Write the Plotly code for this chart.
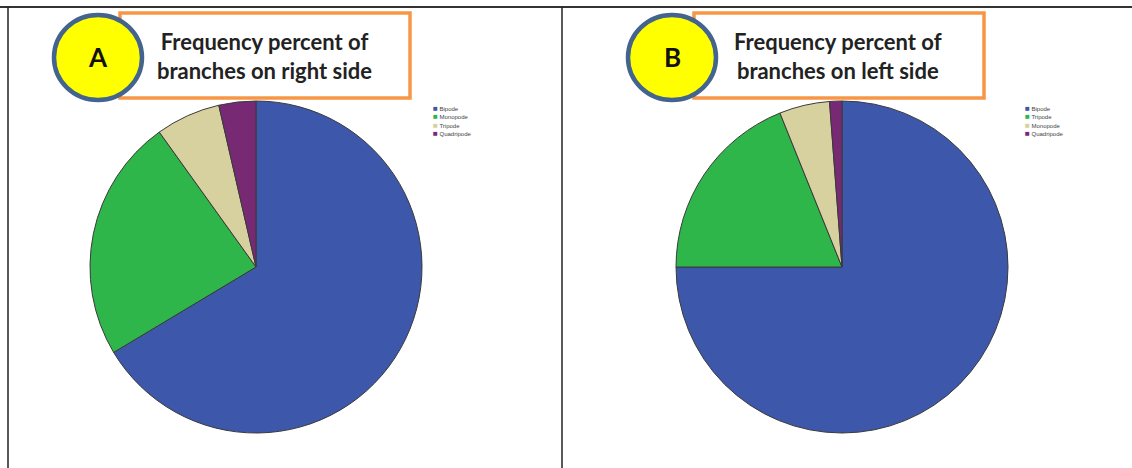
import plotly.graph_objects as go

W, H = 1132, 468

labels_a = ["Bipode", "Monopode", "Tripode", "Quadripode"]
values_a = [66.4, 23.7, 6.3, 3.6]
labels_b = ["Bipode", "Tripode", "Monopode", "Quadripode"]
values_b = [75.0, 18.9, 4.9, 1.2]
slice_colors = ["#3d57aa", "#2eb64b", "#d7d09f", "#772a73"]

titles = ["Frequency percent of<br>branches on right side",
          "Frequency percent of<br>branches on left side"]
badges = ["A", "B"]


def px_x(x):
    return x / W


def px_y(y):
    return 1 - y / H


fig = go.Figure()
annotations = []

for labels, values, cx, legx in [
    (labels_a, values_a, 256, 431),
    (labels_b, values_b, 842, 1023),
]:
    r = 166
    fig.add_trace(go.Pie(
        labels=labels,
        values=values,
        sort=False,
        direction="clockwise",
        rotation=0,
        textinfo="none",
        hoverinfo="label+percent",
        marker=dict(colors=slice_colors, line=dict(color="#3a3a3a", width=1)),
        domain=dict(x=[px_x(cx - r), px_x(cx + r)], y=[px_y(267 + r), px_y(267 - r)]),
        showlegend=False,
    ))
    # small SPSS-style legend next to each pie, one row per slice
    for i, (c, lab) in enumerate(zip(slice_colors, labels)):
        annotations.append(dict(x=px_x(legx), y=px_y(108 + 8.6 * i), xref="paper", yref="paper",
                                xanchor="left", yanchor="middle", align="left", showarrow=False,
                                text="<span style='font-size:8px;color:%s'>■</span> %s" % (c, lab),
                                font=dict(family="Arial", size=6, color="#444")))

shapes = [
    # panel borders
    dict(type="line", x0=0, x1=1, y0=px_y(7), y1=px_y(7), line=dict(color="#333", width=2)),
    dict(type="line", x0=px_x(8), x1=px_x(8), y0=0, y1=px_y(7), line=dict(color="#222", width=1.5)),
    dict(type="line", x0=px_x(562), x1=px_x(562), y0=0, y1=px_y(7), line=dict(color="#222", width=1.5)),
]

for ox, k in [(0, 0), (574, 1)]:
    # orange title box
    shapes.append(dict(type="rect", x0=px_x(120 + ox), x1=px_x(410 + ox),
                       y0=px_y(98), y1=px_y(13),
                       line=dict(color="#f79646", width=3.5), fillcolor="white"))
    # yellow badge
    shapes.append(dict(type="circle", x0=px_x(54 + ox), x1=px_x(142 + ox),
                       y0=px_y(100), y1=px_y(15),
                       line=dict(color="#43648e", width=4.5), fillcolor="#ffff00"))
    annotations.append(dict(x=px_x(98 + ox), y=px_y(57), xref="paper", yref="paper",
                            xanchor="center", yanchor="middle",
                            text="<b>%s</b>" % badges[k], showarrow=False,
                            font=dict(family="Lato", size=26, color="#111")))
    annotations.append(dict(x=px_x(264 + ox), y=px_y(56), xref="paper", yref="paper",
                            xanchor="center", yanchor="middle",
                            text="<b>%s</b>" % titles[k], showarrow=False, align="center",
                            font=dict(family="Lato", size=22, color="#222")))

fig.update_layout(
    width=W, height=H,
    margin=dict(l=0, r=0, t=0, b=0),
    paper_bgcolor="white", plot_bgcolor="white",
    shapes=shapes,
    annotations=annotations,
)

fig.write_html("out.html", config={"displayModeBar": False},
               post_script="document.body.style.margin='0';")
